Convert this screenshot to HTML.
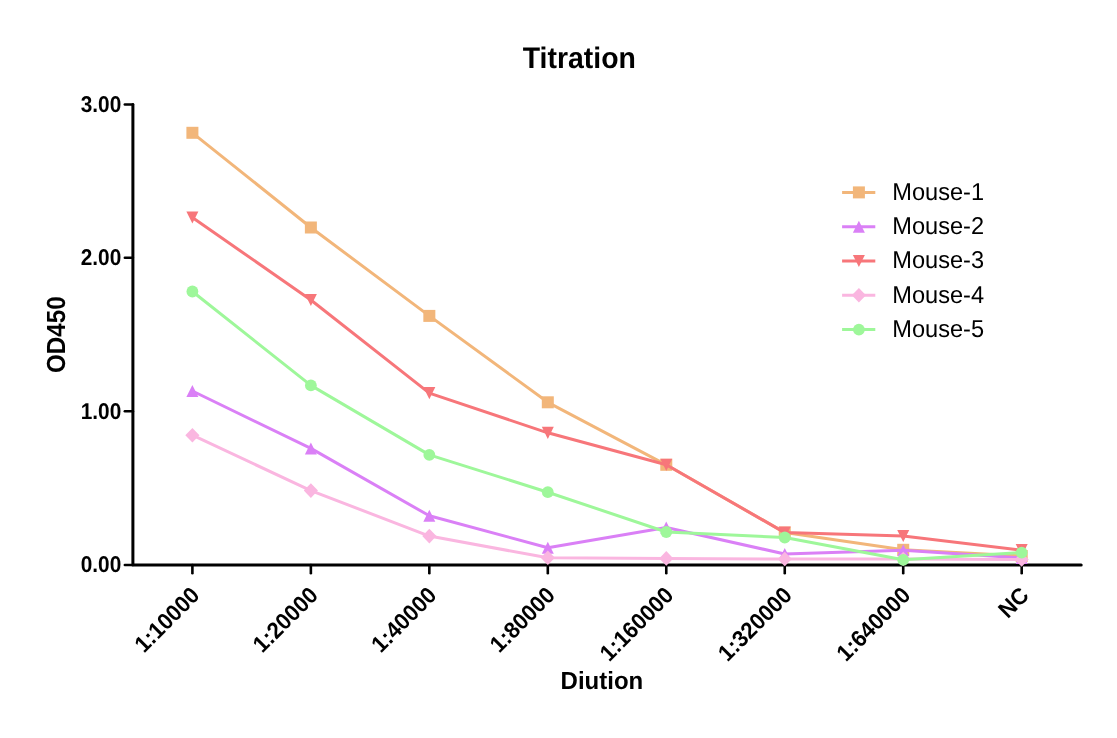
<!DOCTYPE html>
<html><head><meta charset="utf-8"><title>Titration</title>
<style>
html,body{margin:0;padding:0;background:#fff;}
body{width:1117px;height:738px;overflow:hidden;}
svg{display:block;}
text{font-family:"Liberation Sans",Arial,Helvetica,sans-serif;fill:#000;text-rendering:geometricPrecision;}
.b{font-weight:bold;}
</style></head><body>
<svg width="1117" height="738" viewBox="0 0 1117 738">
<rect width="1117" height="738" fill="#fff"/>
<text class="b" font-size="28.4" text-anchor="middle" transform="translate(579.3,68.3) scale(1,1.05)">Titration</text>
<text class="b" font-size="24.25" text-anchor="middle" transform="translate(64.7,334.6) rotate(-90) scale(1,1.08)">OD450</text>
<text class="b" font-size="24" text-anchor="middle" transform="translate(601.9,689.05) scale(1,1.035)">Diution</text>
<g stroke="#000" fill="none" stroke-linecap="round" stroke-linejoin="round">
<path d="M132.9,104.5 V565 H1081.2" stroke-width="3"/>
<path d="M124.8,104.5 H132.9" stroke-width="2.5"/>
<path d="M124.8,411.35 H132.9" stroke-width="2.5"/>
<path d="M124.8,257.70 H132.9" stroke-width="2.5"/>
<path d="M124.8,565 H132.9" stroke-width="2.5"/>
<path d="M192.40,565 V573.3" stroke-width="2.6"/>
<path d="M310.87,565 V573.3" stroke-width="2.6"/>
<path d="M429.34,565 V573.3" stroke-width="2.6"/>
<path d="M547.81,565 V573.3" stroke-width="2.6"/>
<path d="M666.28,565 V573.3" stroke-width="2.6"/>
<path d="M784.75,565 V573.3" stroke-width="2.6"/>
<path d="M903.22,565 V573.3" stroke-width="2.6"/>
<path d="M1021.69,565 V573.3" stroke-width="2.6"/>
</g>
<text class="b" font-size="21.7" text-anchor="end" transform="translate(121.25,572.20) scale(0.96,1.05)">0.00</text>
<text class="b" font-size="21.7" text-anchor="end" transform="translate(121.25,418.55) scale(0.96,1.05)">1.00</text>
<text class="b" font-size="21.7" text-anchor="end" transform="translate(121.25,264.90) scale(0.96,1.05)">2.00</text>
<text class="b" font-size="21.7" text-anchor="end" transform="translate(121.25,111.70) scale(0.96,1.05)">3.00</text>
<text class="b" font-size="22" text-anchor="end" transform="translate(201.00,596.70) rotate(-45) scale(1.0,1.05)">1:10000</text>
<text class="b" font-size="22" text-anchor="end" transform="translate(319.47,596.70) rotate(-45) scale(1.0,1.05)">1:20000</text>
<text class="b" font-size="22" text-anchor="end" transform="translate(437.94,596.70) rotate(-45) scale(1.0,1.05)">1:40000</text>
<text class="b" font-size="22" text-anchor="end" transform="translate(556.41,596.70) rotate(-45) scale(1.0,1.05)">1:80000</text>
<text class="b" font-size="22" text-anchor="end" transform="translate(674.88,596.70) rotate(-45) scale(1.0,1.05)">1:160000</text>
<text class="b" font-size="22" text-anchor="end" transform="translate(793.35,596.70) rotate(-45) scale(1.0,1.05)">1:320000</text>
<text class="b" font-size="22" text-anchor="end" transform="translate(911.82,596.70) rotate(-45) scale(1.0,1.05)">1:640000</text>
<text class="b" font-size="22" text-anchor="end" transform="translate(1030.29,596.70) rotate(-45) scale(1.0,1.05)">NC</text>
<polyline points="192.40,132.80 310.87,227.50 429.34,315.90 547.81,402.30 666.28,464.80 784.75,532.60 903.22,549.80 1021.69,556.00" fill="none" stroke="#F2B67A" stroke-width="3.0" stroke-linejoin="round"/>
<rect x="186.40" y="126.80" width="12.00" height="12.00" fill="#F2B67A"/>
<rect x="304.87" y="221.50" width="12.00" height="12.00" fill="#F2B67A"/>
<rect x="423.34" y="309.90" width="12.00" height="12.00" fill="#F2B67A"/>
<rect x="541.81" y="396.30" width="12.00" height="12.00" fill="#F2B67A"/>
<rect x="660.28" y="458.80" width="12.00" height="12.00" fill="#F2B67A"/>
<rect x="778.75" y="526.60" width="12.00" height="12.00" fill="#F2B67A"/>
<rect x="897.22" y="543.80" width="12.00" height="12.00" fill="#F2B67A"/>
<rect x="1015.69" y="550.00" width="12.00" height="12.00" fill="#F2B67A"/>
<polyline points="192.40,391.00 310.87,448.40 429.34,515.80 547.81,547.70 666.28,527.50 784.75,554.00 903.22,550.20 1021.69,558.00" fill="none" stroke="#DA80F6" stroke-width="3.0" stroke-linejoin="round"/>
<polygon points="192.40,385.00 198.40,397.00 186.40,397.00" fill="#DA80F6"/>
<polygon points="310.87,442.40 316.87,454.40 304.87,454.40" fill="#DA80F6"/>
<polygon points="429.34,509.80 435.34,521.80 423.34,521.80" fill="#DA80F6"/>
<polygon points="547.81,541.70 553.81,553.70 541.81,553.70" fill="#DA80F6"/>
<polygon points="666.28,521.50 672.28,533.50 660.28,533.50" fill="#DA80F6"/>
<polygon points="784.75,548.00 790.75,560.00 778.75,560.00" fill="#DA80F6"/>
<polygon points="903.22,544.20 909.22,556.20 897.22,556.20" fill="#DA80F6"/>
<polygon points="1021.69,552.00 1027.69,564.00 1015.69,564.00" fill="#DA80F6"/>
<polyline points="192.40,217.50 310.87,300.00 429.34,393.10 547.81,432.80 666.28,464.80 784.75,532.60 903.22,536.00 1021.69,550.20" fill="none" stroke="#F7767A" stroke-width="3.0" stroke-linejoin="round"/>
<polygon points="186.40,211.40 198.40,211.40 192.40,223.60" fill="#F7767A"/>
<polygon points="304.87,293.90 316.87,293.90 310.87,306.10" fill="#F7767A"/>
<polygon points="423.34,387.00 435.34,387.00 429.34,399.20" fill="#F7767A"/>
<polygon points="541.81,426.70 553.81,426.70 547.81,438.90" fill="#F7767A"/>
<polygon points="660.28,458.70 672.28,458.70 666.28,470.90" fill="#F7767A"/>
<polygon points="778.75,526.50 790.75,526.50 784.75,538.70" fill="#F7767A"/>
<polygon points="897.22,529.90 909.22,529.90 903.22,542.10" fill="#F7767A"/>
<polygon points="1015.69,544.10 1027.69,544.10 1021.69,556.30" fill="#F7767A"/>
<polyline points="192.40,435.20 310.87,490.60 429.34,536.10 547.81,557.80 666.28,558.40 784.75,559.00 903.22,559.00 1021.69,559.50" fill="none" stroke="#FAB6E0" stroke-width="3.0" stroke-linejoin="round"/>
<polygon points="192.40,427.90 199.48,435.20 192.40,442.50 185.32,435.20" fill="#FAB6E0"/>
<polygon points="310.87,483.30 317.95,490.60 310.87,497.90 303.79,490.60" fill="#FAB6E0"/>
<polygon points="429.34,528.80 436.42,536.10 429.34,543.40 422.26,536.10" fill="#FAB6E0"/>
<polygon points="547.81,550.50 554.89,557.80 547.81,565.10 540.73,557.80" fill="#FAB6E0"/>
<polygon points="666.28,551.10 673.36,558.40 666.28,565.70 659.20,558.40" fill="#FAB6E0"/>
<polygon points="784.75,551.70 791.83,559.00 784.75,566.30 777.67,559.00" fill="#FAB6E0"/>
<polygon points="903.22,551.70 910.30,559.00 903.22,566.30 896.14,559.00" fill="#FAB6E0"/>
<polygon points="1021.69,552.20 1028.77,559.50 1021.69,566.80 1014.61,559.50" fill="#FAB6E0"/>
<polyline points="192.40,291.50 310.87,385.40 429.34,454.90 547.81,492.20 666.28,532.00 784.75,537.50 903.22,559.80 1021.69,552.60" fill="none" stroke="#9EF79A" stroke-width="3.0" stroke-linejoin="round"/>
<circle cx="192.40" cy="291.50" r="5.9" fill="#9EF79A"/>
<circle cx="310.87" cy="385.40" r="5.9" fill="#9EF79A"/>
<circle cx="429.34" cy="454.90" r="5.9" fill="#9EF79A"/>
<circle cx="547.81" cy="492.20" r="5.9" fill="#9EF79A"/>
<circle cx="666.28" cy="532.00" r="5.9" fill="#9EF79A"/>
<circle cx="784.75" cy="537.50" r="5.9" fill="#9EF79A"/>
<circle cx="903.22" cy="559.80" r="5.9" fill="#9EF79A"/>
<circle cx="1021.69" cy="552.60" r="5.9" fill="#9EF79A"/>
<line x1="842.1" y1="192.40" x2="875.3" y2="192.40" stroke="#F2B67A" stroke-width="3.0"/>
<rect x="852.90" y="186.40" width="12.00" height="12.00" fill="#F2B67A"/>
<text font-size="23.6" transform="translate(892.3,199.70) scale(1,1.033)">Mouse-1</text>
<line x1="842.1" y1="226.70" x2="875.3" y2="226.70" stroke="#DA80F6" stroke-width="3.0"/>
<polygon points="858.90,220.70 864.90,232.70 852.90,232.70" fill="#DA80F6"/>
<text font-size="23.6" transform="translate(892.3,234.00) scale(1,1.033)">Mouse-2</text>
<line x1="842.1" y1="261.00" x2="875.3" y2="261.00" stroke="#F7767A" stroke-width="3.0"/>
<polygon points="852.90,254.90 864.90,254.90 858.90,267.10" fill="#F7767A"/>
<text font-size="23.6" transform="translate(892.3,268.30) scale(1,1.033)">Mouse-3</text>
<line x1="842.1" y1="295.30" x2="875.3" y2="295.30" stroke="#FAB6E0" stroke-width="3.0"/>
<polygon points="858.90,288.00 865.98,295.30 858.90,302.60 851.82,295.30" fill="#FAB6E0"/>
<text font-size="23.6" transform="translate(892.3,302.60) scale(1,1.033)">Mouse-4</text>
<line x1="842.1" y1="329.60" x2="875.3" y2="329.60" stroke="#9EF79A" stroke-width="3.0"/>
<circle cx="858.90" cy="329.60" r="5.9" fill="#9EF79A"/>
<text font-size="23.6" transform="translate(892.3,336.90) scale(1,1.033)">Mouse-5</text>
</svg></body></html>
